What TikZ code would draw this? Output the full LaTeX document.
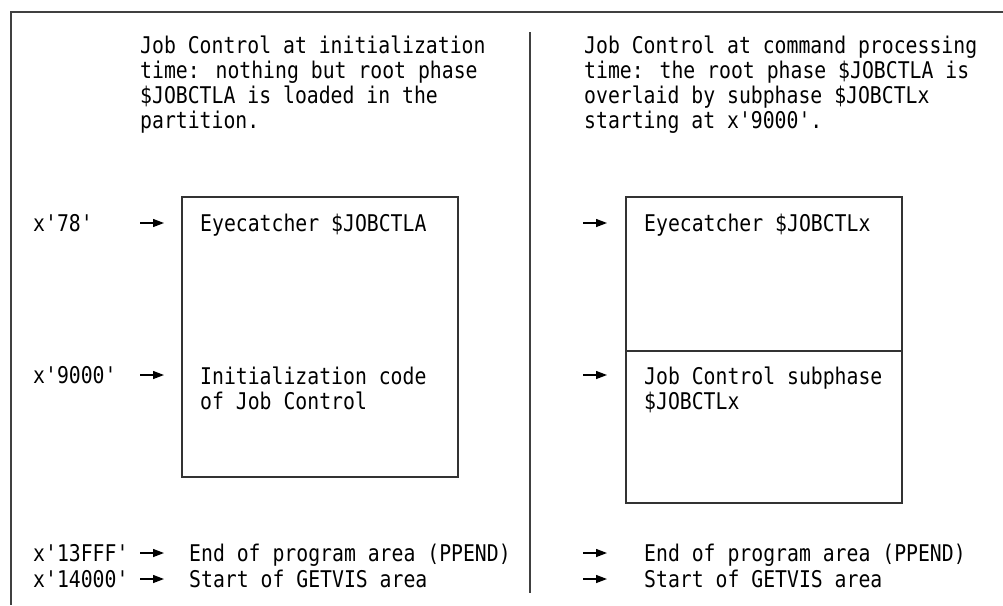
\documentclass[tikz,border=0pt]{standalone}
\usepackage{fontspec}
\newfontfamily\monofam[FakeStretch=0.86]{DejaVu Sans Mono}
\usetikzlibrary{arrows.meta}
\tikzset{
  txt/.style={anchor=base west, inner sep=0pt, align=left,
    font=\monofam\fontsize{23}{25}\selectfont},
  frameline/.style={draw=black!75, line width=1.4pt},
  membox/.style={draw=black!80, line width=1.4pt},
  ptr/.style={-{Triangle[length=11pt,width=8pt]}, line width=1.3pt},
}
\begin{document}
\begin{tikzpicture}[x=1pt,y=-1pt]
\useasboundingbox (0,0) rectangle (1003,605);
% frame
\coordinate (fTL) at (11,12);
\coordinate (fTR) at (1003,12);
\coordinate (fBL) at (11,605);
\draw[frameline] (fTR) -- (fTL) -- (fBL);
% divider
\coordinate (dT) at (530,32);
\coordinate (dB) at (530,593);
\draw[frameline] (dT) -- (dB);
% headers (base = last line)
\node[txt] (hL) at (140,128) {Job Control at initialization\\time: nothing but root phase\\\$JOBCTLA is loaded in the\\partition.};
\node[txt] (hR) at (584,128) {Job Control at command processing\\time: the root phase \$JOBCTLA is\\overlaid by subphase \$JOBCTLx\\starting at x'9000'.};
% boxes
\draw[membox] (182,197) rectangle (458,477);
\draw[membox] (626,197) rectangle (902,503);
\coordinate (sL) at (626,351);
\coordinate (sR) at (902,351);
\draw[membox] (sL) -- (sR);
% addresses
\node[txt] (a78) at (33,231) {x'78'};
\node[txt] (a9000) at (33,383) {x'9000'};
\node[txt] (a13FFF) at (33,561) {x'13FFF'};
\node[txt] (a14000) at (33,587) {x'14000'};
% box texts
\node[txt] (eyeL) at (200,231) {Eyecatcher \$JOBCTLA};
\node[txt] (initL) at (200,409) {Initialization code\\of Job Control};
\node[txt] (eyeR) at (644,231) {Eyecatcher \$JOBCTLx};
\node[txt] (subR) at (644,409) {Job Control subphase\\\$JOBCTLx};
\node[txt] (endL) at (189,561) {End of program area (PPEND)};
\node[txt] (startL) at (189,587) {Start of GETVIS area};
\node[txt] (endR) at (644,561) {End of program area (PPEND)};
\node[txt] (startR) at (644,587) {Start of GETVIS area};
% arrows
\foreach \y/\n in {223/a,375/b,553/c,579/d}{
  \coordinate (lS\n) at (140,\y);
  \coordinate (lE\n) at (164,\y);
  \coordinate (rS\n) at (583,\y);
  \coordinate (rE\n) at (607,\y);
  \draw[ptr] (lS\n) -- (lE\n);
  \draw[ptr] (rS\n) -- (rE\n);
}
\end{tikzpicture}
\end{document}
